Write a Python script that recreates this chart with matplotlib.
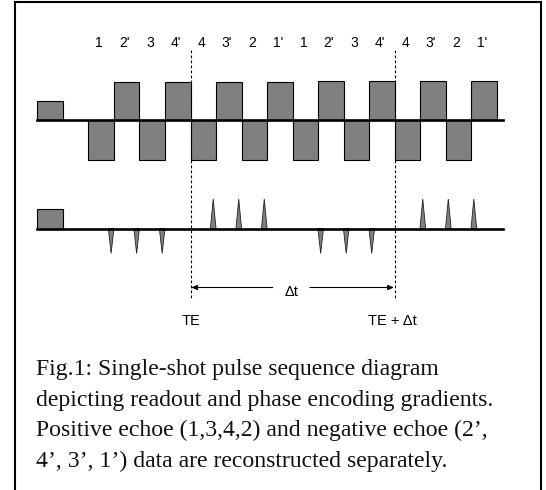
import numpy as np
import matplotlib
matplotlib.use("Agg")
import matplotlib.pyplot as plt

# readout gradient: lobe amplitudes (one lobe per time unit, starting at t=0)
readout_amp = [-1.05, 1.0, -1.05, 1.0, -1.05, 1.0, -1.05, 1.0,
               -1.05, 1.02, -1.05, 1.02, -1.05, 1.02, -1.05, 1.02]
echo_labels = ["1", "2'", "3", "4'", "4", "3'", "2", "1'",
               "1", "2'", "3", "4'", "4", "3'", "2", "1'"]
prephase_t = [-2.0, -1.0]
prephase_amp = 0.5

# phase encoding blips
blip_t = [0.89, 1.89, 2.89, 4.89, 5.89, 6.89,
          9.1, 10.1, 11.1, 13.1, 14.1, 15.1]
blip_amp = [-0.65, -0.65, -0.65, 0.77, 0.77, 0.77,
            -0.65, -0.65, -0.65, 0.77, 0.77, 0.77]
pe_prephase_amp = 0.5

te_marks = [4.0, 12.0]
axis_end = 16.25

caption = ["Fig.1: Single-shot pulse sequence diagram",
           "depicting readout and phase encoding gradients.",
           "Positive echoe (1,3,4,2) and negative echoe (2\u2019,",
           "4\u2019, 3\u2019, 1\u2019) data are reconstructed separately."]

W, H = 546, 490
fig = plt.figure(figsize=(W / 100, H / 100), dpi=100)

# canvas in pixel units for frame and caption
canvas = fig.add_axes([0, 0, 1, 1])
canvas.set_xlim(0, W)
canvas.set_ylim(H, 0)
canvas.axis("off")
canvas.plot([15, 15, 541, 541], [H + 5, 2, 2, H + 5], color="black", lw=1.5,
            solid_joinstyle="miter", clip_on=False)
for i, line in enumerate(caption):
    canvas.text(36, 375 + i * 30.7, line, fontsize=17.1, family="Liberation Serif",
                va="baseline", ha="left", color="#111111")

# diagram axes: x in lobe units, y in pixel-like units
x0, w = 88.4, 25.525
ax = fig.add_axes([0, 0, 1, 1])
ax.set_xlim(-x0 / w, (W - x0) / w)
ax.set_ylim(H, 0)
ax.axis("off")
ax.patch.set_alpha(0)

ro_base, pe_base, scale = 120, 228.5, 38.3
gray = "#808080"

t = np.arange(len(readout_amp))
ax.bar(t, -np.array(readout_amp) * scale, width=1, align="edge", bottom=ro_base,
       color=gray, edgecolor="black", lw=0.8, zorder=2)
ax.bar(prephase_t[0], -prephase_amp * scale, width=prephase_t[1] - prephase_t[0],
       align="edge", bottom=ro_base, color=gray, edgecolor="black", lw=0.8, zorder=2)
ax.plot([prephase_t[0], axis_end], [ro_base, ro_base], color="black", lw=1.9, zorder=3)

for lab, ti in zip(echo_labels, t):
    ax.text(ti + 0.42, 43, lab, fontsize=10, family="Liberation Sans",
            ha="center", va="center")

ax.bar(prephase_t[0], -pe_prephase_amp * scale, width=prephase_t[1] - prephase_t[0],
       align="edge", bottom=pe_base, color=gray, edgecolor="black", lw=0.8, zorder=2)
for tb, a in zip(blip_t, blip_amp):
    ax.fill([tb - 0.11, tb, tb + 0.11], [pe_base, pe_base - a * scale, pe_base],
            facecolor=gray, edgecolor="#222222", lw=0.6, zorder=2)
ax.plot([prephase_t[0], axis_end], [pe_base, pe_base], color="black", lw=1.9, zorder=3)

for tm in te_marks:
    ax.plot([tm, tm], [50, 300], color="black", lw=0.8, dashes=(2.5, 2), zorder=4)

mid = np.mean(te_marks)
arrow_y = 287.5
ax.annotate("", xy=(te_marks[0] + 0.03, arrow_y), xytext=(mid - 0.78, arrow_y),
            arrowprops=dict(arrowstyle="-|>,head_length=0.35,head_width=0.15",
                            color="black", lw=0.8, shrinkA=0, shrinkB=0))
ax.annotate("", xy=(te_marks[1] - 0.03, arrow_y), xytext=(mid + 0.68, arrow_y),
            arrowprops=dict(arrowstyle="-|>,head_length=0.35,head_width=0.15",
                            color="black", lw=0.8, shrinkA=0, shrinkB=0))
ax.text(mid - 0.05, 291.5, "\u0394t", fontsize=10.5, family="Liberation Sans",
        ha="center", va="center")
ax.text(te_marks[0], 321, "TE", fontsize=10.5, family="Liberation Sans",
        ha="center", va="center")
ax.text(te_marks[1] - 0.1, 321, "TE + \u0394t", fontsize=10.5, family="Liberation Sans",
        ha="center", va="center")

fig.savefig("out.png", dpi=100)
